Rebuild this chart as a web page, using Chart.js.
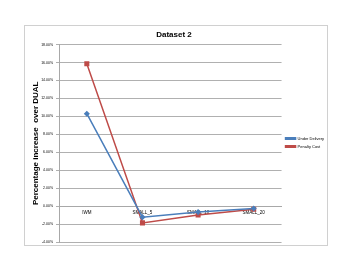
<!DOCTYPE html>
<html><head><meta charset="utf-8">
<script src="https://cdn.jsdelivr.net/npm/chart.js@4"></script>
<style>html,body{margin:0;padding:0;background:#fff}#wrap{width:352px;height:272px}</style>
</head><body><div id="wrap"><canvas id="c" width="352" height="272"></canvas></div>
<script>
const categories = ["IWM", "SMALL_5", "SMALL_10", "SMALL_20"];
const underDelivery = [10.3, -1.23, -0.67, -0.26];
const penaltyCost = [15.87, -1.87, -1.0, -0.34];
const yTicks = [-4, -2, 0, 2, 4, 6, 8, 10, 12, 14, 16, 18];

const borderPlugin = {
  id: 'outerBorder',
  beforeDraw(chart) {
    const ctx = chart.ctx;
    ctx.save();
    ctx.fillStyle = '#fff';
    ctx.fillRect(0, 0, chart.width, chart.height);
    ctx.strokeStyle = '#d0d0d0';
    ctx.lineWidth = 1;
    ctx.strokeRect(24.5, 25.5, 303, 220);
    ctx.restore();
  }
};

new Chart(document.getElementById('c'), {
  type: 'line',
  data: {
    labels: categories,
    datasets: [
      { label: 'Under Delivery', data: underDelivery, borderColor: '#4A7EBB', backgroundColor: '#4A7EBB',
        borderWidth: 1.5, pointStyle: 'rectRot', pointRadius: 2, tension: 0 },
      { label: 'Penalty Cost', data: penaltyCost, borderColor: '#BE4B48', backgroundColor: '#BE4B48',
        borderWidth: 1.5, pointStyle: 'rect', pointRadius: 2.5, tension: 0 }
    ]
  },
  plugins: [borderPlugin],
  options: {
    responsive: false,
    animation: false,
    layout: { padding: { left: 14, right: 18, top: 28, bottom: 30 } },
    plugins: {
      title: { display: true, text: 'Dataset 2', color: '#000',
        font: { family: 'Liberation Sans', size: 8, weight: 'bold' }, padding: { top: 2, bottom: 5 } },
      legend: { position: 'right', align: 'center',
        title: { display: true, text: '', font: { size: 1 }, padding: { top: 0, bottom: 14 } },
        labels: { font: { family: 'Liberation Sans', size: 4 }, color: '#000', boxWidth: 10, boxHeight: 1.5, padding: 4 } },
      tooltip: { enabled: false }
    },
    scales: {
      x: {
        position: { y: 0 },
        offset: true,
        grid: { display: false, drawTicks: false },
        border: { display: true, color: '#a8a8a8', width: 1 },
        ticks: { font: { family: 'Liberation Sans', size: 4.5 }, color: '#000', padding: 4, maxRotation: 0, autoSkip: false }
      },
      y: {
        min: -4, max: 18,
        afterBuildTicks(axis) { axis.ticks = yTicks.map(v => ({ value: v })); },
        afterFit(axis) { axis.width = 45; },
        grid: { color: '#b0b0b0', lineWidth: 1, drawTicks: true, tickLength: 3 },
        border: { display: true, color: '#a8a8a8' },
        title: { display: true, text: 'Percentage increase  over DUAL', color: '#000',
          font: { family: 'Liberation Sans', size: 8, weight: 'bold' }, padding: { top: 17, bottom: 0 } },
        ticks: { font: { family: 'Liberation Sans', size: 3.5 }, color: '#000', padding: 3,
          callback: v => v.toFixed(2) + '%' }
      }
    }
  }
});
</script></body></html>
